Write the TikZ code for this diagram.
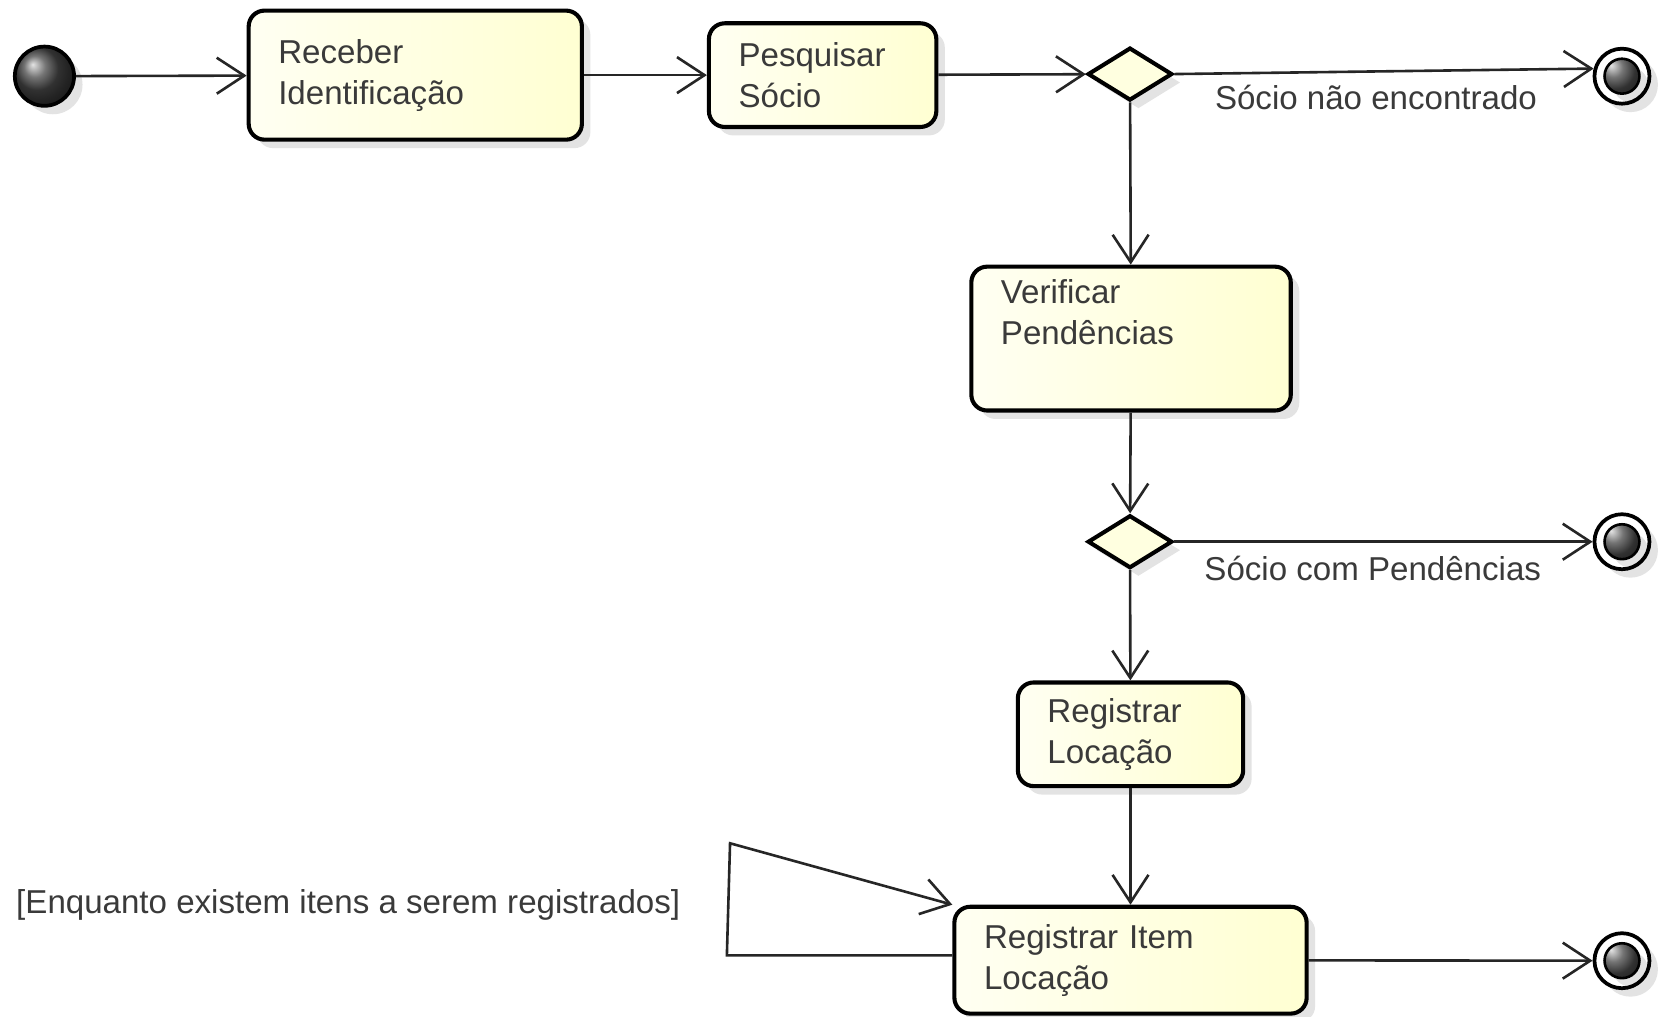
\documentclass[tikz,border=0pt]{standalone}
\usepackage{fontspec}
\setmainfont{Liberation Sans}
\usetikzlibrary{shapes.geometric,arrows.meta,shadows}
\definecolor{txt}{HTML}{3A3A3A}
\definecolor{actl}{HTML}{FFFFF2}
\definecolor{actr}{HTML}{FFFFD2}
\definecolor{dia}{HTML}{FFFFE0}
\begin{document}
\begin{tikzpicture}[x=0.02cm,y=-0.02cm,
  every node/.style={font=\fontsize{17.8}{22}\selectfont, text=txt},
  shade/.style={drop shadow={shadow xshift=0.16cm, shadow yshift=-0.16cm, opacity=0.22, fill=gray}},
  action/.style={draw=black, line width=2.2pt, rounded corners=0.3cm,
    left color=actl, right color=actr, align=left, inner xsep=0.56cm, inner ysep=0pt, shade},
  decision/.style={draw=black, line width=2.2pt, diamond, aspect=1.6, fill=dia,
    minimum width=1.6cm, minimum height=1.0cm, inner sep=0pt, shade},
  startnode/.style={circle, draw=black, line width=2pt, minimum size=1.12cm, inner sep=0pt,
    shading=ball, ball color=gray!55!black, shade},
  endnode/.style={circle, draw=black, line width=2pt, fill=white, minimum size=1.04cm, inner sep=0pt, shade,
    path picture={\shade[ball color=gray!55!black] (path picture bounding box.center) circle (0.33cm);
      \draw[line width=1.4pt] (path picture bounding box.center) circle (0.33cm);}},
  guard/.style={inner sep=0pt, anchor=west},
  flow/.style={draw=black!85, line width=1.4pt,
    -{Straight Barb[length=0.52cm,width=0.68cm,line width=1.4pt]}}
]
\useasboundingbox[fill=white] (0,0) rectangle (1568,961);

% nodes
\node[startnode] (s) at (42,72) {};
\node[action, minimum width=6.3cm, minimum height=2.44cm, text width=5.18cm] (rec) at (392.5,71) {Receber\\Identificação};
\node[action, minimum width=4.3cm, minimum height=1.96cm, text width=3.18cm] (pes) at (777.5,71) {Pesquisar\\Sócio};
\node[decision] (d1) at (1068,70) {};
\node[endnode] (f1) at (1533,72) {};
\node[action, minimum width=6.04cm, minimum height=2.72cm, text width=4.92cm] (ver) at (1069,320) {Verificar\\Pendências\\\strut};
\node[decision] (d2) at (1068,512) {};
\node[endnode] (f2) at (1533,512) {};
\node[action, minimum width=4.26cm, minimum height=1.96cm, text width=3.14cm] (rl) at (1068.5,694) {Registrar\\Locação};
\node[action, minimum width=6.66cm, minimum height=2.02cm, text width=5.54cm] (ri) at (1068.5,907.5) {Registrar Item\\Locação};
\node[endnode] (f3) at (1533,908) {};

% guard labels
\node[guard] (g1) at (1148,92) {Sócio não encontrado};
\node[guard] (g2) at (1138,537) {Sócio com Pendências};
\node[guard] (g3) at (15,855) {[Enquanto existem itens a serem registrados]};

% loop corners
\coordinate (l1) at (687,903);
\coordinate (l2) at (690,797);

% connectors
\draw[flow] (s) -- (rec);
\draw[flow] (rec) -- (pes);
\draw[flow] (pes) -- (d1);
\draw[flow] (d1.east) -- (f1.165);
\draw[flow] (d1) -- (ver);
\draw[flow] (ver) -- (d2);
\draw[flow] (d2.east) -- (f2);
\draw[flow] (d2) -- (rl);
\draw[flow] (rl) -- (ri);
\draw[flow] (ri) -- (f3);
\draw[flow] (ri.west |- l1) -- (l1) -- (l2) -- (ri.north west);
\end{tikzpicture}
\end{document}
